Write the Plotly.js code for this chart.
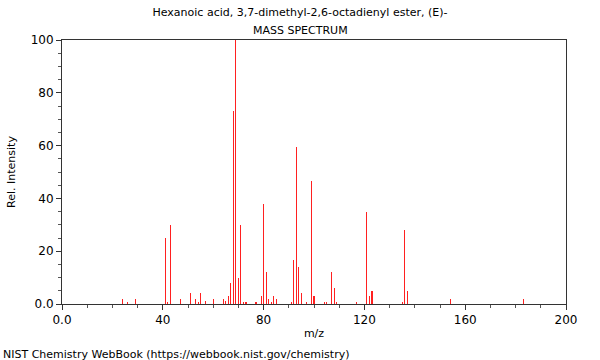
<!DOCTYPE html>
<html>
<head>
<meta charset="utf-8">
<script src="https://cdn.plot.ly/plotly-3.0.1.min.js"></script>
<style>html,body{margin:0;padding:0;background:#fff;}#chart{width:600px;height:360px;}</style>
</head>
<body>
<div id="chart"></div>
<script>
const mz = [24, 26, 29, 41, 42, 43, 47, 51, 53, 54, 55, 57, 60, 64, 65, 66, 67, 68, 69, 70, 71, 72, 73, 77, 79, 80, 81, 82, 83, 84, 85, 91, 92, 93, 94, 95, 97, 99, 100, 104, 105, 107, 108, 109, 117, 121, 122, 123, 135, 136, 137, 154, 183];
const intensity = [2, 0.9, 2, 25, 0.8, 30, 2, 4, 2, 0.6, 4, 1, 2, 2, 1, 3, 8, 73, 100, 10, 30, 0.8, 0.8, 0.8, 3, 38, 12, 2, 0.6, 3, 2, 0.8, 16.7, 59.5, 14, 4, 0.8, 46.5, 3, 0.8, 0.8, 12, 6, 0.8, 0.8, 34.7, 3, 5, 0.8, 28, 5, 2, 2];
const xTickVals = [0, 40, 80, 120, 160, 200];
const xTickText = ["0.0", "40", "80", "120", "160", "200"];
const yTickVals = [0, 20, 40, 60, 80, 100];
const yTickText = ["0.0", "20", "40", "60", "80", "100"];
const chartTitle = "Hexanoic acid, 3,7-dimethyl-2,6-octadienyl ester, (E)-";
const chartSubtitle = "MASS SPECTRUM";
const footer = "NIST Chemistry WebBook (https://webbook.nist.gov/chemistry)";

const font = {family: "DejaVu Sans", size: 11, color: "#000"};
const trace = {
  type: "bar", x: mz, y: intensity, width: 0.45,
  marker: {color: "#ff2020", line: {width: 0}},
  hoverinfo: "x+y"
};
const axisCommon = {
  showline: true, mirror: true, linecolor: "#333", linewidth: 1,
  ticks: "outside", ticklen: 5, tickcolor: "#333", tickwidth: 1,
  showgrid: false, zeroline: false, tickfont: {family: "DejaVu Sans", size: 12, color: "#000"}
};
const layout = {
  width: 600, height: 360,
  margin: {l: 62, r: 34, t: 40, b: 56},
  paper_bgcolor: "#fff", plot_bgcolor: "#fff",
  font: font,
  showlegend: false,
  bargap: 0,
  title: {text: chartTitle, font: {family: "DejaVu Sans", size: 11, color: "#000"},
          x: 0.5, xanchor: "center", xref: "container", yref: "container", y: 1 - 12/360, yanchor: "middle"},
  xaxis: Object.assign({}, axisCommon, {
    range: [0, 200], tickvals: xTickVals, ticktext: xTickText,
    minor: {dtick: 10, tick0: 0, ticks: "outside", ticklen: 3, tickcolor: "#555"},
    title: {text: "m/z", font: {family: "DejaVu Sans", size: 11, color: "#000"}, standoff: 2}
  }),
  yaxis: Object.assign({}, axisCommon, {
    range: [0, 100], tickvals: yTickVals, ticktext: yTickText,
    minor: {dtick: 5, tick0: 0, ticks: "outside", ticklen: 3, tickcolor: "#555"},
    title: {text: "Rel. Intensity", font: {family: "DejaVu Sans", size: 11, color: "#000"}, standoff: 12}
  }),
  annotations: [{
    text: chartSubtitle, xref: "paper", yref: "paper", x: (300 - 62) / 504, y: (304 - 30) / 264,
    xanchor: "center", yanchor: "middle", showarrow: false,
    font: {family: "DejaVu Sans", size: 11, color: "#000"}
  }, {
    text: footer, xref: "paper", yref: "paper", x: -61/504, y: -0.16,
    xanchor: "left", yanchor: "top", showarrow: false,
    font: {family: "DejaVu Sans", size: 11, color: "#000"}
  }]
};
Plotly.newPlot("chart", [trace], layout, {displayModeBar: false, staticPlot: true});
</script>
</body>
</html>
